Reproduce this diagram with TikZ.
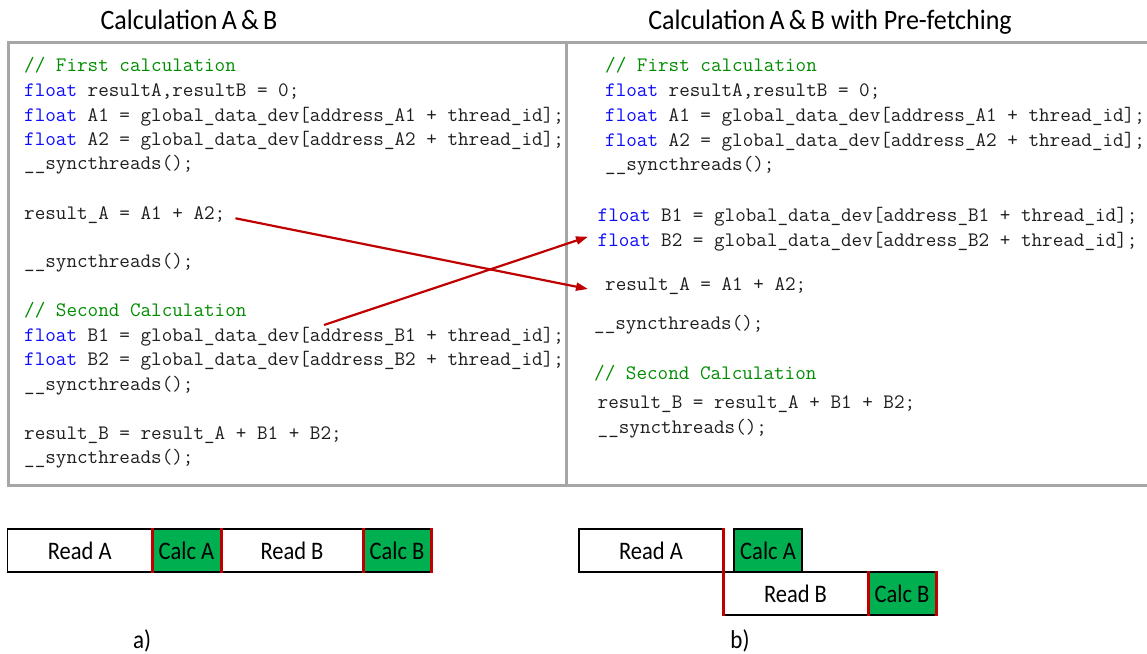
\documentclass[tikz,border=0pt]{standalone}
\usepackage{fontspec}
\usepackage{graphicx}
\setmainfont{Carlito}
\usetikzlibrary{arrows.meta}

\definecolor{framegray}{RGB}{166,166,166}
\definecolor{kwblue}{RGB}{10,10,255}
\definecolor{cmtgreen}{RGB}{0,140,0}
\definecolor{codeink}{RGB}{30,30,30}
\definecolor{calcgreen}{RGB}{0,176,80}
\definecolor{barred}{RGB}{192,0,0}

\newcommand\kw[1]{\textcolor{kwblue}{#1}}
\newcommand\cmt[1]{\textcolor{cmtgreen}{#1}}
\newcommand\tall[1]{\scalebox{1}[1.12]{#1}}

\tikzset{
  frame/.style={draw=framegray, line width=3pt},
  codeline/.style={anchor=base west, inner sep=0pt, text=codeink,
    font=\fontsize{20.55}{22}\selectfont\ttfamily},
  heading/.style={anchor=base, inner sep=0pt, yscale=1.08,
    font=\fontsize{26}{30}\selectfont},
  phase/.style={draw=black, line width=1.4pt, inner sep=0pt, outer sep=0pt,
    anchor=north west, minimum height=43pt, font=\fontsize{22.5}{26}\selectfont},
  readbox/.style={phase, fill=white},
  calcbox/.style={phase, fill=calcgreen},
  redbar/.style={draw=barred, line width=3pt},
  moveline/.style={draw=barred, line width=2.2pt,
    -{Triangle[length=12pt,width=8pt]}},
  caption/.style={inner sep=0pt, font=\fontsize{23}{27}\selectfont},
}

\begin{document}
\begin{tikzpicture}[x=1pt, y=-1pt]
\useasboundingbox (0,0) rectangle (1147,653);

% headings
\node[heading] (tl) at (189,29.3) {Calculation\,A\,\&\,B};
\node[heading] (tr) at (830,29.3) {Calculation\,A\,\&\,B with Pre-fetching};

% code panels
\draw[frame] (1152,42.5) -- (8,42.5) -- (8,485) -- (1152,485);
\draw[frame] (566,42.5) -- (566,485);

% plain version
\node[codeline] (L1)  at (24,71.7)  {\cmt{// First calculation}};
\node[codeline] (L2)  at (24,96.7)  {\kw{float} resultA,resultB = 0;};
\node[codeline] (L3)  at (24,121.2) {\kw{float} A1 = global\_data\_dev[address\_A1 + thread\_id];};
\node[codeline] (L4)  at (24,145.7) {\kw{float} A2 = global\_data\_dev[address\_A2 + thread\_id];};
\node[codeline] (L5)  at (24,169.7) {\_\_syncthreads();};
\node[codeline] (L6)  at (24,219.3) {result\_A = A1 + A2;};
\node[codeline] (L7)  at (24,267.8) {\_\_syncthreads();};
\node[codeline] (L8)  at (24,316.7) {\cmt{// Second Calculation}};
\node[codeline] (L9)  at (24,341.2) {\kw{float} B1 = global\_data\_dev[address\_B1 + thread\_id];};
\node[codeline] (L10) at (24,365.7) {\kw{float} B2 = global\_data\_dev[address\_B2 + thread\_id];};
\node[codeline] (L11) at (24,390)   {\_\_syncthreads();};
\node[codeline] (L12) at (24,439.3) {result\_B = result\_A + B1 + B2;};
\node[codeline] (L13) at (24,463.3) {\_\_syncthreads();};

% pre-fetching version
\node[codeline] (R1)  at (605,71.7)  {\cmt{// First calculation}};
\node[codeline] (R2)  at (605,96.7)  {\kw{float} resultA,resultB = 0;};
\node[codeline] (R3)  at (605,121.7) {\kw{float} A1 = global\_data\_dev[address\_A1 + thread\_id];};
\node[codeline] (R4)  at (605,146.2) {\kw{float} A2 = global\_data\_dev[address\_A2 + thread\_id];};
\node[codeline] (R5)  at (605,170.2) {\_\_syncthreads();};
\node[codeline] (R6)  at (597.5,221.7) {\kw{float} B1 = global\_data\_dev[address\_B1 + thread\_id];};
\node[codeline] (R7)  at (597.5,246.2) {\kw{float} B2 = global\_data\_dev[address\_B2 + thread\_id];};
\node[codeline] (R8)  at (605,290)   {result\_A = A1 + A2;};
\node[codeline] (R9)  at (594,329.3) {\_\_syncthreads();};
\node[codeline] (R10) at (594,379.3) {\cmt{// Second Calculation}};
\node[codeline] (R11) at (597.5,408.3) {result\_B = result\_A + B1 + B2;};
\node[codeline] (R12) at (597.5,433.3) {\_\_syncthreads();};

% moved statements
\coordinate (mvAs) at ([xshift=10pt,yshift=1pt]L6.base east);
\coordinate (mvAe) at ([xshift=-17pt,yshift=1pt]R8.base west);
\coordinate (mvBs) at (324,325);
\coordinate (mvBe) at ([xshift=-9.5pt,yshift=9.5pt]R7.base west);
\draw[moveline] (mvAs) -- (mvAe);
\draw[moveline] (mvBs) -- (mvBe);

% timeline a)
\node[readbox, minimum width=144.5pt] (ra) at (7.5,529) {\tall{Read A}};
\node[calcbox, minimum width=69pt]    (ca) at (ra.north east) {\tall{Calc A}};
\node[readbox, minimum width=142pt]   (rb) at (ca.north east) {\tall{Read B}};
\node[calcbox, minimum width=68pt]    (cb) at (rb.north east) {\tall{Calc B}};
\foreach \b in {ca.north west, rb.north west, cb.north west, cb.north east}
  \draw[redbar] ([yshift=1pt]\b) -- ++(0,45);
\node[caption] (capa) at (142,641) {\tall{a)}};

% timeline b)
\node[readbox, minimum width=144pt] (ra2) at (579,529) {\tall{Read A}};
\node[calcbox, minimum width=68pt]  (ca2) at (734,529) {\tall{Calc A}};
\node[readbox, minimum width=145pt] (rb2) at (ra2.south east) {\tall{Read B}};
\node[calcbox, minimum width=68pt]  (cb2) at (rb2.north east) {\tall{Calc B}};
\draw[redbar] ([yshift=1pt]ra2.north east) -- ([yshift=-1pt]rb2.south west);
\draw[redbar] ([yshift=1pt]cb2.north west) -- ([yshift=-1pt]cb2.south west);
\draw[redbar] ([yshift=1pt]cb2.north east) -- ([yshift=-1pt]cb2.south east);
\node[caption] (capb) at (740,641) {\tall{b)}};
\end{tikzpicture}
\end{document}
